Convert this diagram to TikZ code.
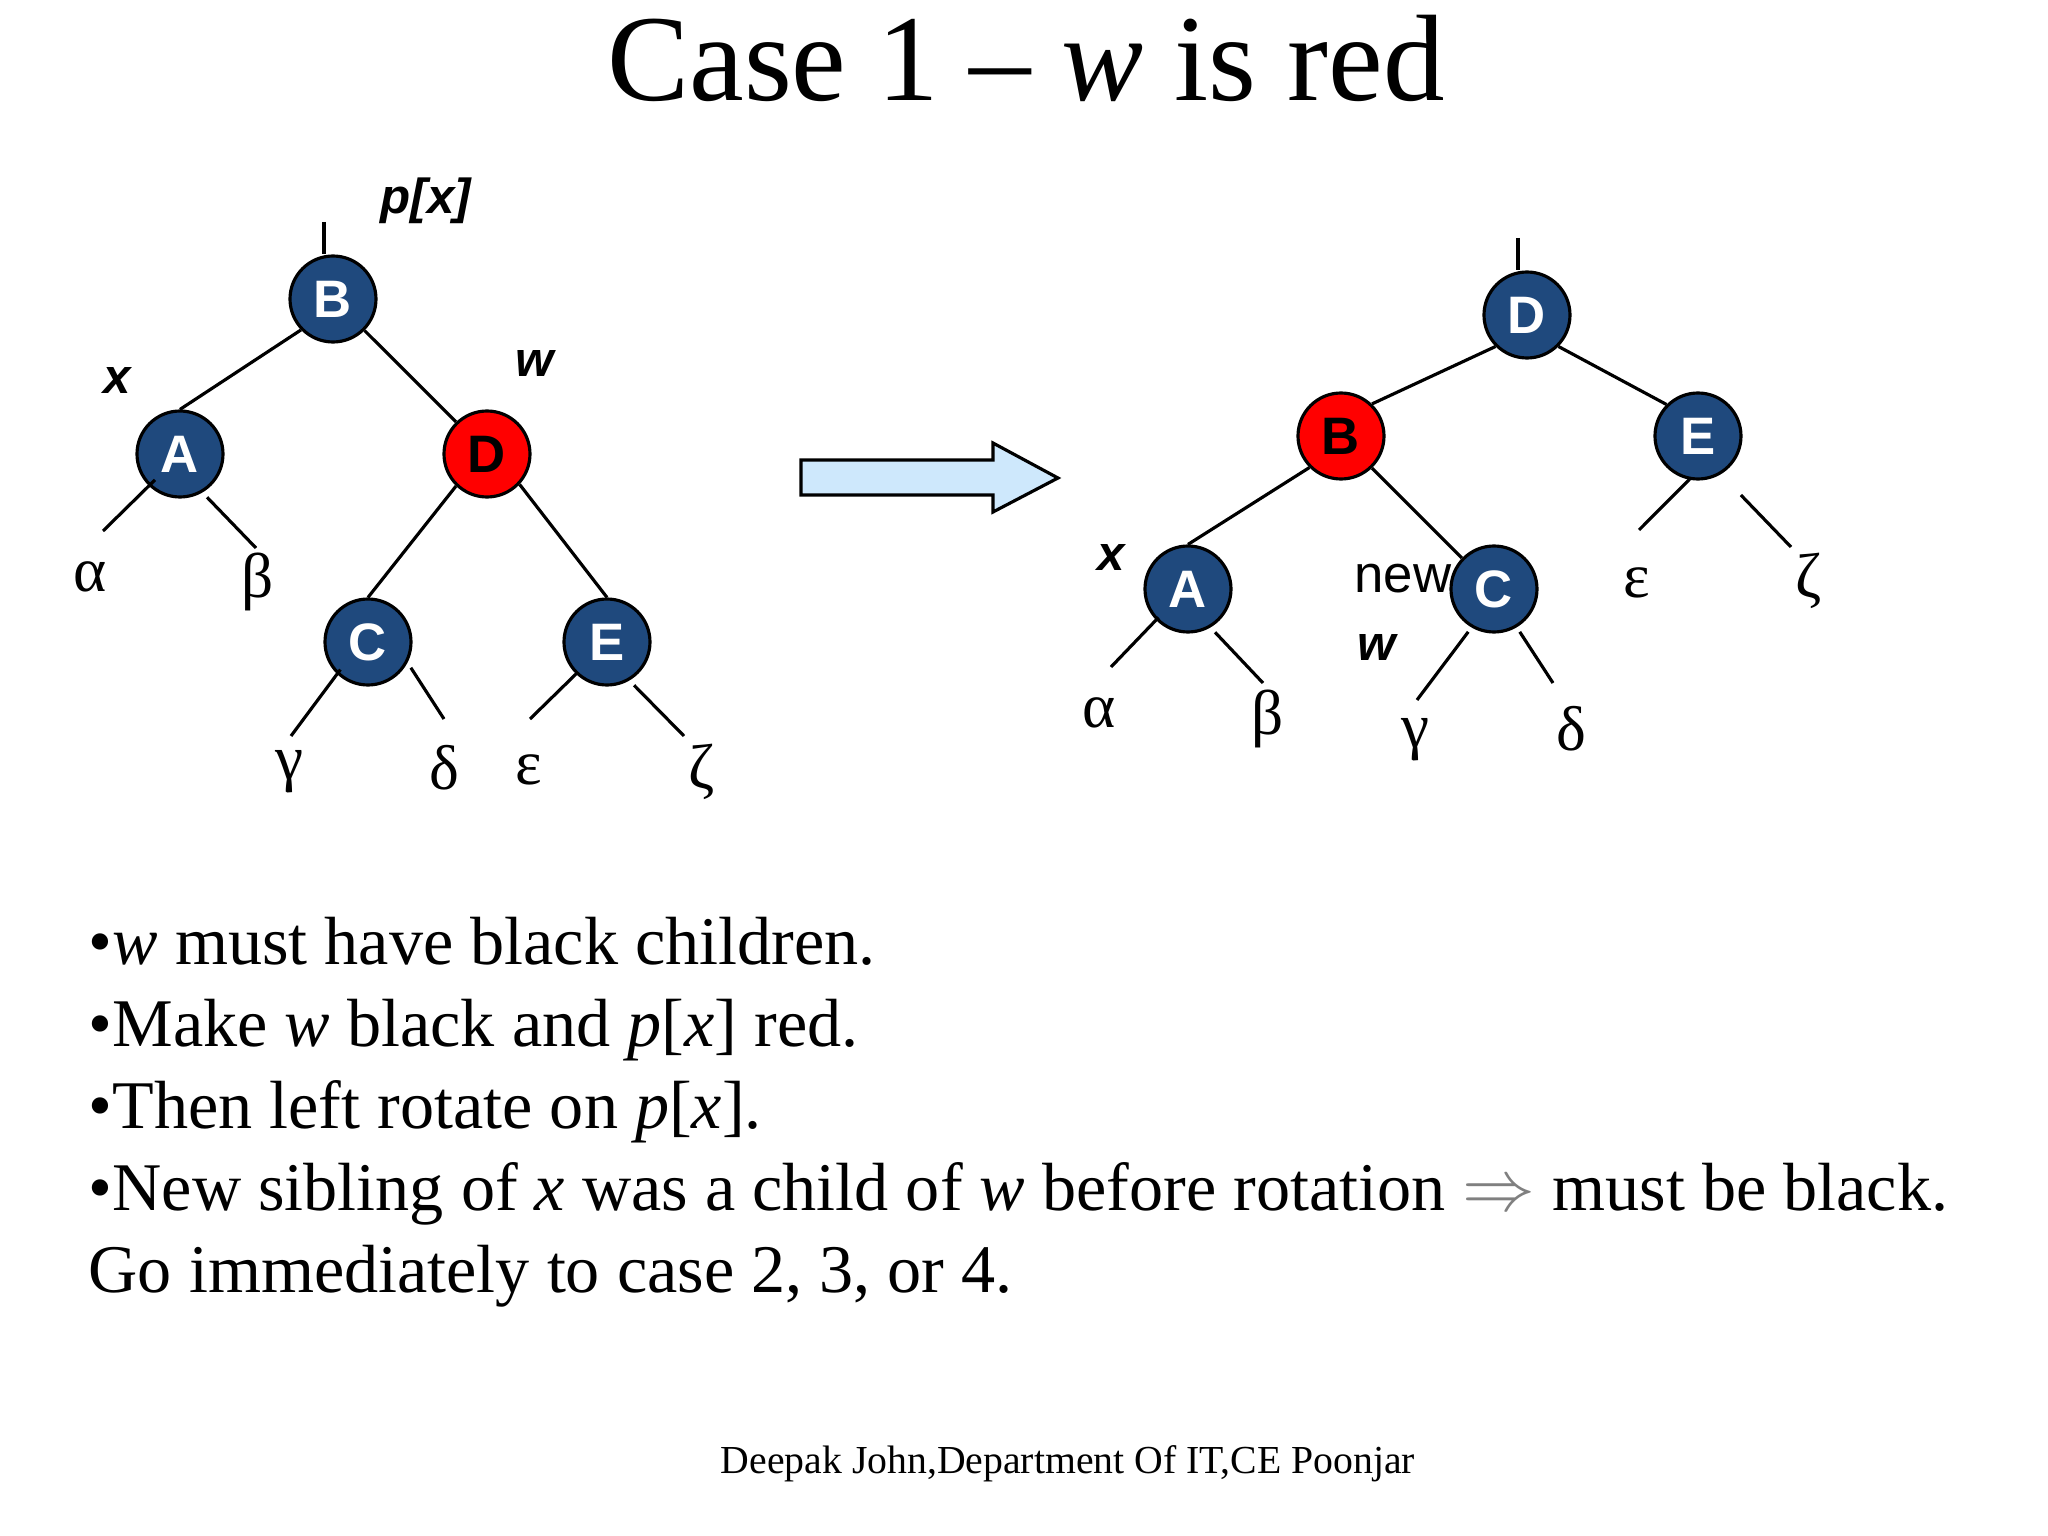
\documentclass[tikz,border=0pt]{standalone}
\usepackage{fontspec}
\setmainfont{Liberation Serif}
\setsansfont{Liberation Sans}
\usepackage{tikz}
\usetikzlibrary{arrows.meta,positioning,calc}
\usepackage{xcolor}
\definecolor{rbblue}{RGB}{31,73,125}
\definecolor{rbred}{RGB}{255,0,0}
\definecolor{arrowblue}{RGB}{206,232,252}
\definecolor{implgray}{RGB}{128,128,128}
\tikzset{
  rbB/.style  ={circle, draw=black, line width=0.9pt, fill=rbblue, text=white,
                font=\sffamily\bfseries\fontsize{15}{15}\selectfont,
                minimum size=8.6mm, inner sep=0pt},
  rbR/.style  ={rbB, fill=rbred, text=black},                        % rot
  leaf/.style ={font=\fontsize{18}{18}\selectfont, inner sep=0pt},  % Teilbaeume
  lbl/.style  ={font=\sffamily\bfseries\itshape\fontsize{14}{14}\selectfont, inner sep=0pt},
  txt/.style  ={font=\fontsize{19.4}{22}\selectfont, anchor=base west, inner sep=0pt},
  edge/.style ={line width=0.9pt, draw=black},
}

\begin{document}
\begin{tikzpicture}
  \path[use as bounding box, fill=white] (0,0) rectangle (20.48,-15.36);
  \node[font=\fontsize{35}{35}\selectfont, anchor=base, inner sep=0pt] (title) at (10.26,-1.01)
    {Case 1 -- \textit{w} is red};

  % vorher
  \node[rbB] (B)  at (3.33,-2.99) {B};
  \node[rbB] (A)  at (1.80,-4.54) {A};
  \node[rbR] (D)  at (4.87,-4.54) {D};
  \node[rbB] (C)  at (3.68,-6.42) {C};
  \node[rbB] (E)  at (6.07,-6.42) {E};
  \node[lbl] (px) at (4.26,-2.01) {p[x]};
  \node[lbl] (xl) at (1.17,-3.81) {x};
  \node[lbl] (wl) at (5.35,-3.64) {w};
  \coordinate (topL) at (3.24,-2.22);
  \coordinate (aL) at (1.03,-5.31);  \coordinate (aR) at (2.56,-5.48);
  \coordinate (cL) at (2.91,-7.36);  \coordinate (cR) at (4.44,-7.19);
  \coordinate (eL) at (5.30,-7.19);  \coordinate (eR) at (6.84,-7.36);
  \node[leaf] (alpha) at (0.90,-5.77) {α};
  \node[leaf] (beta)  at (2.58,-5.82) {β};
  \node[leaf] (gamma) at (2.89,-7.72) {γ};
  \node[leaf] (delta) at (4.44,-7.68) {δ};
  \node[leaf] (eps)   at (5.29,-7.70) {ε};
  \node[leaf] (zeta)  at (7.02,-7.72) {ζ};
  \draw[edge] (topL) -- (topL |- B.north);
  \draw[edge] (B.224) -- (A.north);
  \draw[edge] (B.-45) -- (D.134);
  \draw[edge] (D.226) -- (C.north);
  \draw[edge] (D.-43) -- (E.north);
  \draw[edge] ([shift={(226:3.6mm)}]A.center) -- (aL);
  \draw[edge] ([shift={(-58:5.1mm)}]A.center) -- (aR);
  \draw[edge] ([shift={(225:3.9mm)}]C.center) -- (cL);
  \draw[edge] ([shift={(-31:5.0mm)}]C.center) -- (cR);
  \draw[edge] ([shift={(226:4.2mm)}]E.center) -- (eL);
  \draw[edge] ([shift={(-58:5.1mm)}]E.center) -- (eR);

  % Pfeil
  \draw[line width=0.9pt, fill=arrowblue] (8.01,-4.60) -- (9.93,-4.60) -- (9.93,-4.43)
    -- (10.58,-4.78) -- (9.93,-5.12) -- (9.93,-4.95) -- (8.01,-4.95) -- cycle;

  % nachher
  \node[font=\sffamily\fontsize{15}{15}\selectfont, inner sep=0pt] (new) at (14.03,-5.79) {new};
  \node[rbB] (D2) at (15.27,-3.15) {D};
  \node[rbR] (B2) at (13.41,-4.36) {B};
  \node[rbB] (E2) at (16.98,-4.36) {E};
  \node[rbB] (A2) at (11.88,-5.89) {A};
  \node[rbB] (C2) at (14.94,-5.89) {C};
  \node[lbl] (xl2) at (11.11,-5.58) {x};
  \node[lbl] (wl2) at (13.77,-6.48) {w};
  \coordinate (topR) at (15.18,-2.38);
  \coordinate (aL2) at (11.11,-6.67);  \coordinate (aR2) at (12.63,-6.83);
  \coordinate (cL2) at (14.17,-7.00);  \coordinate (cR2) at (15.53,-6.83);
  \coordinate (eL2) at (16.39,-5.30);  \coordinate (eR2) at (17.91,-5.47);
  \node[leaf] (alpha2) at (10.99,-7.13) {α};
  \node[leaf] (beta2)  at (12.68,-7.19) {β};
  \node[leaf] (gamma2) at (14.15,-7.40) {γ};
  \node[leaf] (delta2) at (15.71,-7.29) {δ};
  \node[leaf] (eps2)   at (16.37,-5.83) {ε};
  \node[leaf] (zeta2)  at (18.09,-5.81) {ζ};
  \draw[edge] (topR) -- (topR |- D2.north);
  \draw[edge] (D2.225) -- (B2.46);
  \draw[edge] (D2.-45) -- (E2.135);
  \draw[edge] (B2.225) -- (A2.north);
  \draw[edge] (B2.-46) -- (C2.136);
  \draw[edge] ([shift={(224:4.1mm)}]A2.center) -- (aL2);
  \draw[edge] ([shift={(-58:5.1mm)}]A2.center) -- (aR2);
  \draw[edge] ([shift={(239:5.0mm)}]C2.center) -- (cL2);
  \draw[edge] ([shift={(-59:5.0mm)}]C2.center) -- (cR2);
  \draw[edge] ([shift={(259:4.4mm)}]E2.center) -- (eL2);
  \draw[edge] ([shift={(-54:7.3mm)}]E2.center) -- (eR2);

  % Text
  \node[txt] (l1) at (0.88,-9.64)  {•\textit{w} must have black children.};
  \node[txt] (l2) at (0.88,-10.46) {•Make \textit{w} black and \textit{p}[\textit{x}] red.};
  \node[txt] (l3) at (0.88,-11.28) {•Then left rotate on \textit{p}[\textit{x}].};
  \node[txt] (l4) at (0.88,-12.10) {•New sibling of \textit{x} was a child of \textit{w} before rotation
    {\color{implgray}$\Rightarrow$} must be black.};
  \node[txt] (l5) at (0.88,-12.92) {Go immediately to case 2, 3, or 4.};
  \node[font=\fontsize{11.3}{11.3}\selectfont, anchor=base, inner sep=0pt] (foot) at (10.68,-14.73)
    {Deepak John,Department Of IT,CE Poonjar};
\end{tikzpicture}
\end{document}
